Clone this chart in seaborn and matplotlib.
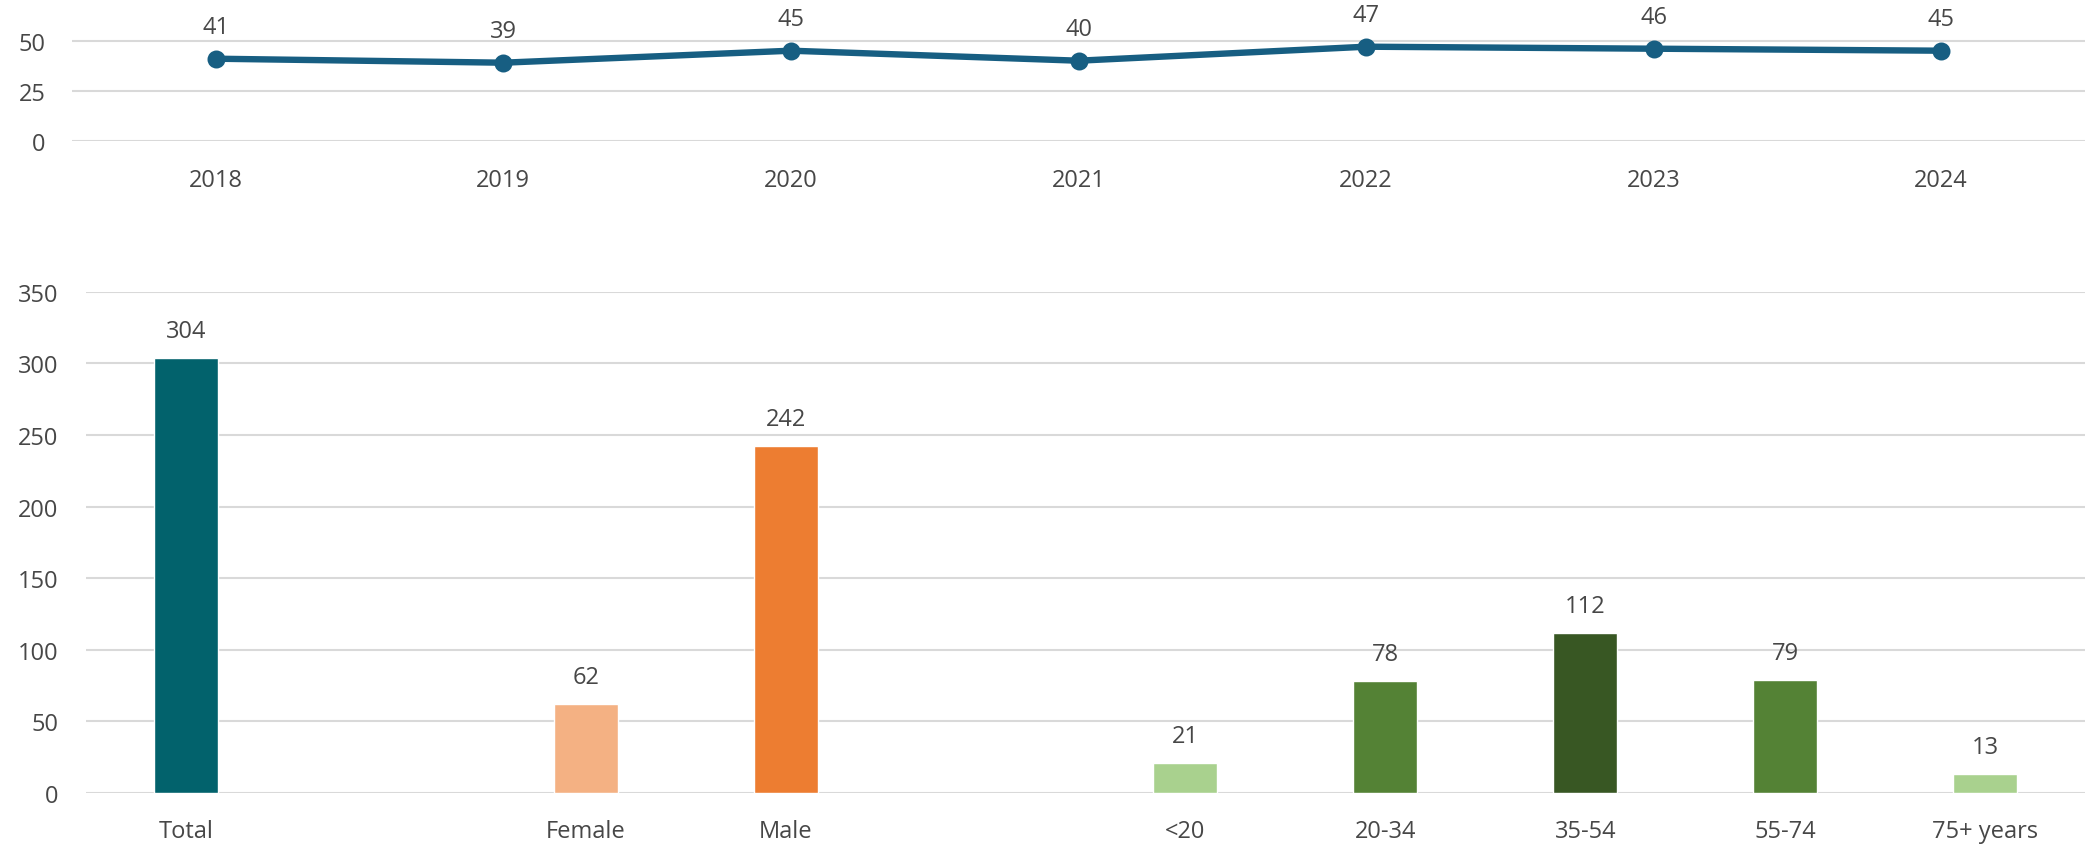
import matplotlib
matplotlib.use("Agg")
import matplotlib.pyplot as plt
import seaborn as sns
import pandas as pd

# Yearly trend
years = ["2018", "2019", "2020", "2021", "2022", "2023", "2024"]
yearly_values = [41, 39, 45, 40, 47, 46, 45]

# Breakdown of the latest year
categories = ["Total", "Female", "Male", "<20", "20-34", "35-54", "55-74", "75+ years"]
category_values = [304, 62, 242, 21, 78, 112, 79, 13]
category_colors = ["#02626C", "#F4B183", "#ED7D31", "#A9D18E",
                   "#548235", "#385723", "#548235", "#A9D18E"]
# Blank slots separate the total, sex and age groups
slot_order = ["Total", " ", "Female", "Male", "  ", "<20", "20-34", "35-54", "55-74", "75+ years"]

top_yticks = [0, 25, 50]
bottom_yticks = [0, 50, 100, 150, 200, 250, 300, 350]

sns.set_theme(style="white")
plt.rcParams["font.family"] = ["Open Sans", "DejaVu Sans"]

text_color = "#474747"
grid_color = "#D9D9D9"
line_color = "#175E82"
fs = 17

W, H = 2087, 845
fig = plt.figure(figsize=(W / 100, H / 100), dpi=100)

# ---- top: line chart ----
ax1 = fig.add_axes([72 / W, 1 - 141.7 / H, (2085 - 72) / W, 120 / H])
df_line = pd.DataFrame({"year": years, "value": yearly_values})
sns.pointplot(data=df_line, x="year", y="value", color=line_color,
              markers="o", linestyles="-", linewidth=4.6, markersize=9.5, ax=ax1)
for i, v in enumerate(yearly_values):
    ax1.annotate(str(v), (i, v), xytext=(0, 32), textcoords="offset pixels",
                 ha="center", va="center", fontsize=fs, color=text_color,
                 annotation_clip=False)
ax1.set_xlim(-0.5, len(years) - 0.5)
ax1.set_ylim(0, 60)
ax1.set_yticks(top_yticks)
for y in top_yticks:
    ax1.axhline(y, color=grid_color, linewidth=1.5, zorder=0)
ax1.set_xlabel("")
ax1.set_ylabel("")
ax1.tick_params(axis="both", length=0, labelsize=fs, labelcolor=text_color)
ax1.tick_params(axis="y", pad=19)
ax1.tick_params(axis="x", pad=20)
for s in ax1.spines.values():
    s.set_visible(False)

# ---- bottom: bar chart ----
ax2 = fig.add_axes([86 / W, 1 - 794 / H, (2085 - 86) / W, 501.3 / H])
df_bar = pd.DataFrame({"group": categories, "value": category_values})
palette = dict(zip(categories, category_colors))
sns.barplot(data=df_bar, x="group", y="value", hue="group", order=slot_order,
            hue_order=categories, palette=palette, width=0.32, legend=False,
            saturation=1, ax=ax2, zorder=2)
for lbl_pos, name in enumerate(slot_order):
    if name in categories:
        v = category_values[categories.index(name)]
        ax2.annotate(str(v), (lbl_pos, v), xytext=(0, 27), textcoords="offset pixels",
                     ha="center", va="center", fontsize=fs, color=text_color,
                     annotation_clip=False)
ax2.set_xlim(-0.5, len(slot_order) - 0.5)
ax2.set_ylim(0, 350)
ax2.set_yticks(bottom_yticks)
for y in bottom_yticks:
    ax2.axhline(y, color=grid_color, linewidth=1.5, zorder=0)
ax2.set_xlabel("")
ax2.set_ylabel("")
ax2.tick_params(axis="both", length=0, labelsize=fs, labelcolor=text_color)
ax2.tick_params(axis="y", pad=20)
ax2.tick_params(axis="x", pad=19)
for s in ax2.spines.values():
    s.set_visible(False)

fig.savefig("out.png", dpi=100, facecolor="white")
